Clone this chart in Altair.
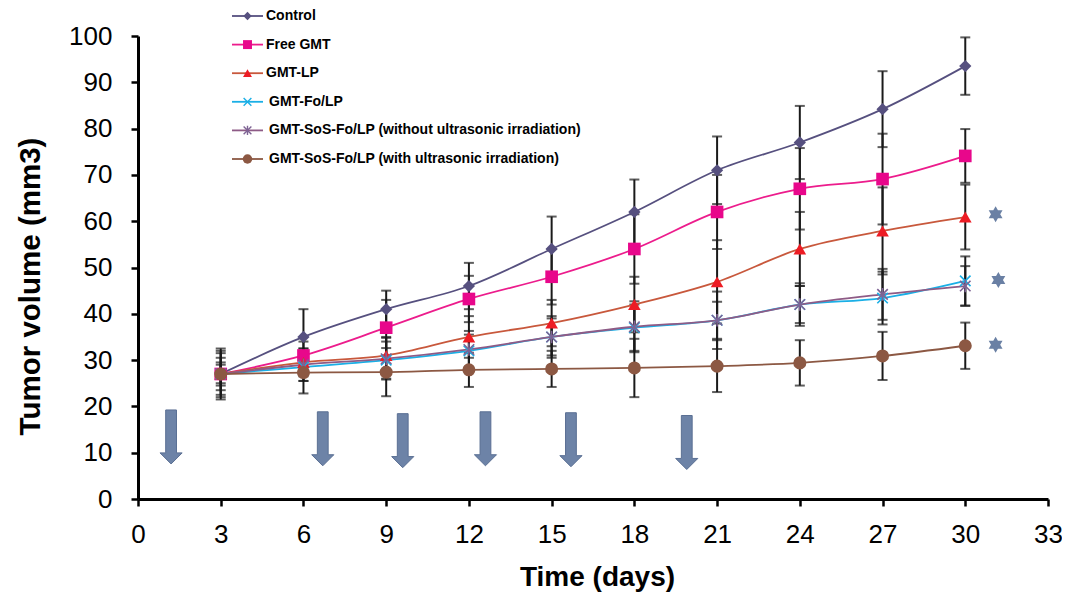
import altair as alt
import pandas as pd

days = [3, 6, 9, 12, 15, 18, 21, 24, 27, 30]

names = [
    "Control",
    "Free GMT",
    "GMT-LP",
    "GMT-Fo/LP",
    "GMT-SoS-Fo/LP (without ultrasonic irradiation)",
    "GMT-SoS-Fo/LP (with ultrasonic irradiation)",
]

control = [27, 35, 41, 46, 54, 62, 71, 77, 84.2, 93.5]
free_gmt = [27, 31, 37, 43.2, 48, 54, 62, 67, 69.1, 74.1]
gmt_lp = [27, 29.5, 31, 35, 38, 42, 46.9, 54, 57.9, 60.9]
gmt_fo = [27, 28.5, 30, 32, 35, 37, 38.6, 42, 43.4, 47.1]
sos_without = [27, 29, 30.3, 32.3, 35, 37.2, 38.6, 42, 44.2, 46]
sos_with = [27, 27.3, 27.4, 27.9, 28.1, 28.3, 28.7, 29.4, 30.9, 33.1]

err_control = [5, 6, 4, 5, 7, 7, 7.3, 7.9, 8.2, 6.2]
err_free = [4.5, 3, 6, 5, 6, 7.5, 8, 8.8, 9.8, 5.8]
err_lp = [3.5, 3, 4, 4.5, 5, 6, 9, 8, 9.4, 7]
err_fo = [2.5, 3, 4, 3.5, 4, 5, 4, 4, 5.7, 5.3]
err_without = [2, 3.5, 4.5, 4, 4.5, 5.5, 6.2, 4.6, 5.5, 4.3]
err_with = [5.5, 4.5, 5.2, 3.7, 3.9, 6.3, 5.6, 4.9, 5.2, 5]

values = [control, free_gmt, gmt_lp, gmt_fo, sos_without, sos_with]
errors = [err_control, err_free, err_lp, err_fo, err_without, err_with]

line_colors = ["#56507F", "#EC1C8C", "#C8583C", "#1AAFE6", "#8E5B86", "#8C5843"]
marker_colors = ["#56507F", "#E8078B", "#ED1C24", "#1AAFE6", "#7E6394", "#8C5843"]

X_PATH = "M-1,-1L1,1M-1,1L1,-1"
AST_PATH = "M-1,-1L1,1M-1,1L1,-1M0,-1.2L0,1.2"
STAR_PATH = ("M0,-1L0.289,-0.5L0.866,-0.5L0.577,0L0.866,0.5L0.289,0.5L0,1"
             "L-0.289,0.5L-0.866,0.5L-0.577,0L-0.866,-0.5L-0.289,-0.5Z")
ARROW_PATH = "M-0.2,-1L0.2,-1L0.2,0.59L0.41,0.59L0,1L-0.41,0.59L-0.2,0.59Z"

shapes = ["diamond", "square", "triangle-up", X_PATH, AST_PATH, "circle"]
filled = [True, True, True, False, False, True]
sizes = [150, 160, 160, 110, 110, 170]
legend_sizes = [70, 80, 80, 60, 60, 90]

arrow_days = [1.2, 6.7, 9.6, 12.6, 15.7, 19.9]
arrow_level = [13.4, 13.0, 12.6, 13.0, 12.8, 12.2]

star_days = [31.1, 31.2, 31.1]
star_level = [61.5, 47.3, 33.3]

x_ticks = list(range(0, 34, 3))
y_ticks = list(range(0, 101, 10))

FONT = "Liberation Sans"

xscale = alt.Scale(domain=[0, 33], nice=False, zero=False)
yscale = alt.Scale(domain=[0, 100], nice=False)

x_axis = alt.Axis(values=x_ticks, title="Time (days)", titleX=459, titleY=78,
                  titleBaseline="middle", titleAlign="center", labelFlush=False,
                  labelPadding=15, titleFontSize=28)
y_axis = alt.Axis(values=y_ticks, title="Tumor volume (mm3)", titleX=-108, titleY=250,
                  titleAngle=-90, titleBaseline="middle", titleAlign="center",
                  labelFlush=False, labelPadding=19, titleFontSize=29.5)

frames = []
for i, name in enumerate(names):
    for d, v, e in zip(days, values[i], errors[i]):
        frames.append({"series": name, "idx": i, "day": d, "value": v,
                       "lo": v - e, "hi": v + e})
df = pd.DataFrame(frames)

base = alt.Chart(df)

err_rule = base.mark_rule(color="#1A1A1A", strokeWidth=2).encode(
    x=alt.X("day:Q", scale=xscale, axis=x_axis),
    y=alt.Y("lo:Q", scale=yscale, axis=y_axis),
    y2="hi:Q",
)
err_hi = base.mark_tick(color="#1A1A1A", thickness=2, size=10, orient="horizontal").encode(
    x=alt.X("day:Q", scale=xscale), y=alt.Y("hi:Q", scale=yscale))
err_lo = base.mark_tick(color="#1A1A1A", thickness=2, size=10, orient="horizontal").encode(
    x=alt.X("day:Q", scale=xscale), y=alt.Y("lo:Q", scale=yscale))

main_layers = [err_rule, err_hi, err_lo]

for i, name in enumerate(names):
    sub = base.transform_filter(alt.datum.idx == i)
    main_layers.append(
        sub.mark_line(color=line_colors[i], strokeWidth=1.8, interpolate="monotone").encode(
            x=alt.X("day:Q", scale=xscale), y=alt.Y("value:Q", scale=yscale))
    )
for i, name in enumerate(names):
    sub = base.transform_filter(alt.datum.idx == i)
    if filled[i]:
        mk = sub.mark_point(shape=shapes[i], filled=True, size=sizes[i],
                            color=marker_colors[i], opacity=1)
    else:
        mk = sub.mark_point(shape=shapes[i], filled=False, size=sizes[i],
                            color=marker_colors[i], strokeWidth=1.6, opacity=1)
    main_layers.append(mk.encode(x=alt.X("day:Q", scale=xscale),
                                 y=alt.Y("value:Q", scale=yscale)))

arrows_df = pd.DataFrame({"day": arrow_days, "level": arrow_level})
arrows = alt.Chart(arrows_df).mark_point(
    shape=ARROW_PATH, size=2916, filled=True, color="#6D83A7",
    stroke="#5A6F93", strokeWidth=1, opacity=1
).encode(x=alt.X("day:Q", scale=xscale), y=alt.Y("level:Q", scale=yscale))

stars_df = pd.DataFrame({"day": star_days, "level": star_level})
stars = alt.Chart(stars_df).mark_point(
    shape=STAR_PATH, size=256, filled=True, color="#6A80A4", opacity=1
).encode(x=alt.X("day:Q", scale=xscale), y=alt.Y("level:Q", scale=yscale))

main_layers += [arrows, stars]
main = alt.layer(*main_layers)

# legend
leg_scale = alt.Scale(domain=[0, 5], range=[-20, 123])
leg_layers = []
for i, name in enumerate(names):
    ldf = pd.DataFrame({"row": [i], "name": [name]})
    lb = alt.Chart(ldf)
    leg_layers.append(lb.mark_rule(color=line_colors[i], strokeWidth=1.8).encode(
        x=alt.value(94), x2=alt.value(125),
        y=alt.Y("row:Q", scale=leg_scale, axis=None)))
    if filled[i]:
        lm = lb.mark_point(shape=shapes[i], filled=True, size=legend_sizes[i],
                           color=marker_colors[i], opacity=1)
    else:
        lm = lb.mark_point(shape=shapes[i], filled=False, size=legend_sizes[i],
                           color=marker_colors[i], strokeWidth=1.4, opacity=1)
    leg_layers.append(lm.encode(x=alt.value(109.5),
                                y=alt.Y("row:Q", scale=leg_scale, axis=None)))
    leg_layers.append(lb.mark_text(align="left", baseline="middle", font=FONT,
                                   fontSize=14, fontWeight="bold", color="black").encode(
        x=alt.value(128 if i < 3 else 131),
        y=alt.Y("row:Q", scale=leg_scale, axis=None),
        text="name:N"))
legend = alt.layer(*leg_layers)

chart = alt.layer(main, legend).resolve_scale(y="independent").properties(
    width=910, height=463,
    autosize=alt.AutoSizeParams(type="none"),
    padding={"left": 130, "top": 28, "right": 14, "bottom": 94},
).configure_view(stroke=None).configure_axis(
    grid=False,
    domainColor="black", domainWidth=3,
    tickColor="black", tickWidth=2.5, tickSize=7,
    labelFont=FONT, labelFontSize=26, labelColor="black",
    titleFont=FONT, titleFontWeight="bold", titleColor="black",
)

chart.save("out.html", embed_options={"renderer": "svg", "actions": False})
